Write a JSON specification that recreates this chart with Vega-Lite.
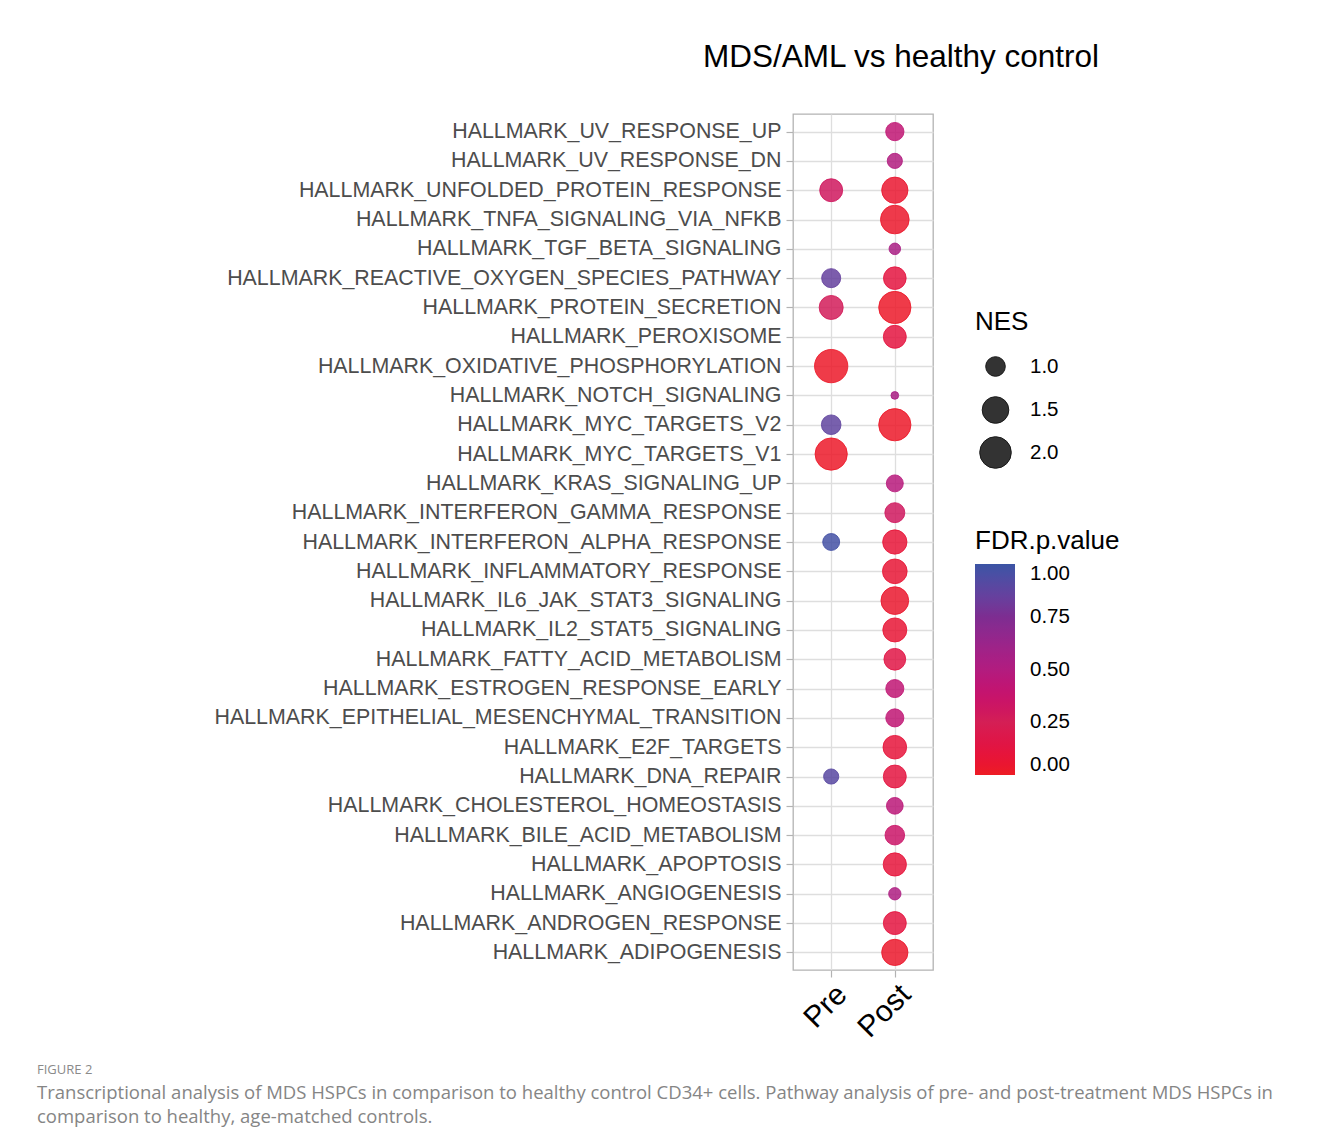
{
  "$schema": "https://vega.github.io/schema/vega-lite/v6.json",
  "padding": {"left": 37, "top": 40, "right": 10, "bottom": 8},
  "background": "white",
  "config": {
    "font": "Liberation Sans",
    "view": {"stroke": null},
    "axis": {"grid": true, "gridColor": "#DEDEDE", "gridWidth": 1.3, "tickColor": "#B3B3B3", "tickSize": 7, "tickWidth": 1.2, "domain": false}
  },
  "datasets": {
    "gsea": [
      {"pathway": "HALLMARK_UV_RESPONSE_UP", "group": "Post", "NES": 0.93, "FDR": 0.42},
      {"pathway": "HALLMARK_UV_RESPONSE_DN", "group": "Post", "NES": 0.80, "FDR": 0.50},
      {"pathway": "HALLMARK_UNFOLDED_PROTEIN_RESPONSE", "group": "Pre", "NES": 1.21, "FDR": 0.30},
      {"pathway": "HALLMARK_UNFOLDED_PROTEIN_RESPONSE", "group": "Post", "NES": 1.47, "FDR": 0.05},
      {"pathway": "HALLMARK_TNFA_SIGNALING_VIA_NFKB", "group": "Post", "NES": 1.69, "FDR": 0.03},
      {"pathway": "HALLMARK_TGF_BETA_SIGNALING", "group": "Post", "NES": 0.71, "FDR": 0.55},
      {"pathway": "HALLMARK_REACTIVE_OXYGEN_SPECIES_PATHWAY", "group": "Pre", "NES": 0.97, "FDR": 0.85},
      {"pathway": "HALLMARK_REACTIVE_OXYGEN_SPECIES_PATHWAY", "group": "Post", "NES": 1.19, "FDR": 0.12},
      {"pathway": "HALLMARK_PROTEIN_SECRETION", "group": "Pre", "NES": 1.29, "FDR": 0.27},
      {"pathway": "HALLMARK_PROTEIN_SECRETION", "group": "Post", "NES": 2.07, "FDR": 0.02},
      {"pathway": "HALLMARK_PEROXISOME", "group": "Post", "NES": 1.21, "FDR": 0.12},
      {"pathway": "HALLMARK_OXIDATIVE_PHOSPHORYLATION", "group": "Pre", "NES": 2.19, "FDR": 0.02},
      {"pathway": "HALLMARK_NOTCH_SIGNALING", "group": "Post", "NES": 0.67, "FDR": 0.55},
      {"pathway": "HALLMARK_MYC_TARGETS_V2", "group": "Pre", "NES": 1.00, "FDR": 0.87},
      {"pathway": "HALLMARK_MYC_TARGETS_V2", "group": "Post", "NES": 2.07, "FDR": 0.02},
      {"pathway": "HALLMARK_MYC_TARGETS_V1", "group": "Pre", "NES": 2.07, "FDR": 0.02},
      {"pathway": "HALLMARK_KRAS_SIGNALING_UP", "group": "Post", "NES": 0.87, "FDR": 0.47},
      {"pathway": "HALLMARK_INTERFERON_GAMMA_RESPONSE", "group": "Post", "NES": 1.02, "FDR": 0.30},
      {"pathway": "HALLMARK_INTERFERON_ALPHA_RESPONSE", "group": "Pre", "NES": 0.87, "FDR": 0.97},
      {"pathway": "HALLMARK_INTERFERON_ALPHA_RESPONSE", "group": "Post", "NES": 1.31, "FDR": 0.08},
      {"pathway": "HALLMARK_INFLAMMATORY_RESPONSE", "group": "Post", "NES": 1.34, "FDR": 0.07},
      {"pathway": "HALLMARK_IL6_JAK_STAT3_SIGNALING", "group": "Post", "NES": 1.60, "FDR": 0.04},
      {"pathway": "HALLMARK_IL2_STAT5_SIGNALING", "group": "Post", "NES": 1.29, "FDR": 0.07},
      {"pathway": "HALLMARK_FATTY_ACID_METABOLISM", "group": "Post", "NES": 1.13, "FDR": 0.15},
      {"pathway": "HALLMARK_ESTROGEN_RESPONSE_EARLY", "group": "Post", "NES": 0.92, "FDR": 0.42},
      {"pathway": "HALLMARK_EPITHELIAL_MESENCHYMAL_TRANSITION", "group": "Post", "NES": 0.92, "FDR": 0.42},
      {"pathway": "HALLMARK_E2F_TARGETS", "group": "Post", "NES": 1.26, "FDR": 0.10},
      {"pathway": "HALLMARK_DNA_REPAIR", "group": "Pre", "NES": 0.80, "FDR": 0.90},
      {"pathway": "HALLMARK_DNA_REPAIR", "group": "Post", "NES": 1.21, "FDR": 0.12},
      {"pathway": "HALLMARK_CHOLESTEROL_HOMEOSTASIS", "group": "Post", "NES": 0.86, "FDR": 0.45},
      {"pathway": "HALLMARK_BILE_ACID_METABOLISM", "group": "Post", "NES": 1.00, "FDR": 0.35},
      {"pathway": "HALLMARK_APOPTOSIS", "group": "Post", "NES": 1.23, "FDR": 0.10},
      {"pathway": "HALLMARK_ANGIOGENESIS", "group": "Post", "NES": 0.72, "FDR": 0.52},
      {"pathway": "HALLMARK_ANDROGEN_RESPONSE", "group": "Post", "NES": 1.21, "FDR": 0.12},
      {"pathway": "HALLMARK_ADIPOGENESIS", "group": "Post", "NES": 1.47, "FDR": 0.03}
    ]
  },
  "data": {"name": "gsea"},
  "bounds": "flush",
  "spacing": 163,
  "vconcat": [
    {
      "width": 140,
      "height": 856,
      "view": {"stroke": "#B3B3B3", "strokeWidth": 1.3},
      "title": {"text": "MDS/AML vs healthy control", "fontSize": 31.5, "fontWeight": "normal", "color": "#000000", "anchor": "middle", "frame": "group", "dx": 38, "offset": 41},
      "mark": {"type": "circle", "opacity": 1, "fillOpacity": 0.85, "strokeOpacity": 0.85, "strokeWidth": 1},
      "encoding": {
        "x": {"field": "group", "type": "nominal", "title": null,
              "scale": {"type": "point", "domain": ["Pre", "Post"], "padding": 0.6},
              "axis": {"labelAngle": -45, "labelAlign": "right", "labelBaseline": "top", "labelFontSize": 30, "labelColor": "#000000", "labelPadding": 2}},
        "y": {"field": "pathway", "type": "nominal", "title": null, "sort": "descending",
              "scale": {"type": "point", "padding": 0.6},
              "axis": {"labelFontSize": 21.4, "labelColor": "#4D4D4D", "labelPadding": 5, "labelLimit": 1000}},
        "size": {"field": "NES", "type": "quantitative",
                 "scale": {"zero": false, "domain": [0.67, 0.72, 0.8, 0.9, 1.0, 1.2, 1.5, 1.8, 2.19], "range": [59, 152, 230, 312, 385, 520, 709, 886, 1109]},
                 "legend": {"orient": "none", "legendX": 182, "legendY": 195, "values": [1, 1.5, 2], "format": ".1f", "title": "NES",
                            "titleFontSize": 26, "titleFontWeight": "normal", "titleColor": "#000000", "titlePadding": 21,
                            "labelFontSize": 20.5, "labelColor": "#000000", "symbolType": "circle", "symbolFillColor": "#333333",
                            "symbolStrokeColor": "#1a1a1a", "symbolStrokeWidth": 1, "symbolOpacity": 1, "rowPadding": 3,
                            "gridAlign": "all", "labelOffset": 18, "symbolOffset": 4, "padding": 0}},
        "color": {"field": "FDR", "type": "quantitative",
                  "scale": {"domain": [0, 0.25, 0.5, 0.75, 1], "range": ["#ED1C24", "#D41F55", "#B21C7F", "#7D2D91", "#3B54A4"]},
                  "legend": {"orient": "none", "legendX": 182, "legendY": 414, "title": "FDR.p.value", "values": [0, 0.25, 0.5, 0.75, 1], "format": ".2f",
                             "titleFontSize": 26, "titleFontWeight": "normal", "titleColor": "#000000", "titlePadding": 10,
                             "labelFontSize": 20.5, "labelColor": "#000000", "labelOffset": 15, "labelBaseline": "middle",
                             "gradientLength": 211, "gradientThickness": 40, "gradientStrokeWidth": 0, "gradientOpacity": 1, "direction": "vertical", "padding": 0}},
        "stroke": {"field": "FDR", "type": "quantitative",
                   "scale": {"domain": [1, 0.75, 0.5, 0.25, 0], "range": ["#3B54A4", "#7D2D91", "#B21C7F", "#D41F55", "#ED1C24"]},
                   "legend": null}
      }
    },
    {
      "width": 1,
      "height": 1,
      "title": {
        "text": "FIGURE 2",
        "subtitle": ["Transcriptional analysis of MDS HSPCs in comparison to healthy control CD34+ cells. Pathway analysis of pre- and post-treatment MDS HSPCs in", "comparison to healthy, age-matched controls."],
        "anchor": "start", "frame": "group", "dx": -756, "offset": 6,
        "font": "Open Sans", "fontSize": 13, "fontWeight": "normal", "color": "#8A8A8A",
        "subtitleFont": "Open Sans", "subtitleFontSize": 18.5, "subtitleColor": "#858585", "subtitleLineHeight": 24, "subtitlePadding": 7
      },
      "mark": {"type": "rule", "opacity": 0},
      "encoding": {}
    }
  ]
}
